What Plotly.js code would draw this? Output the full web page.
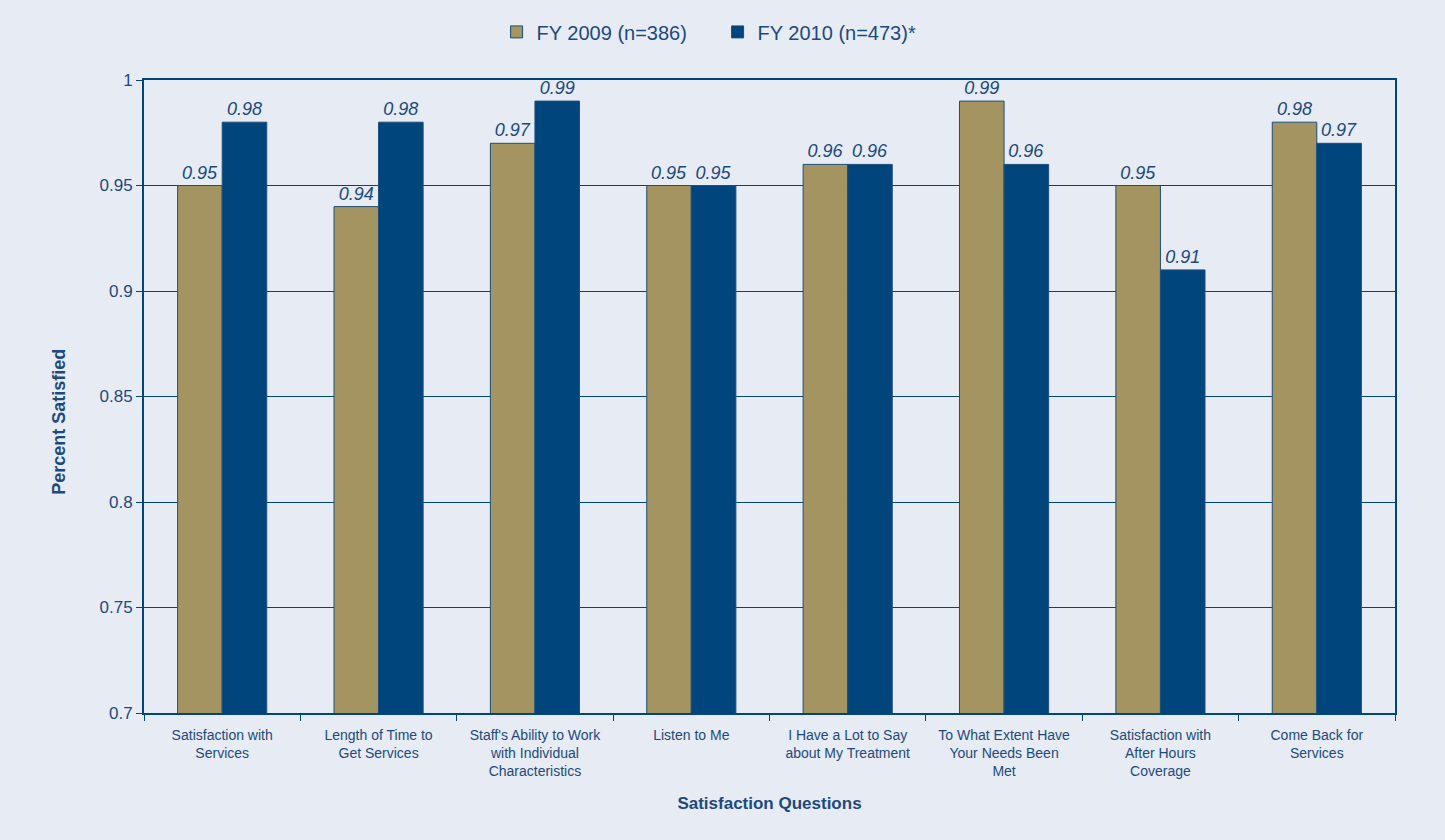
<!DOCTYPE html>
<html><head><meta charset="utf-8">
<script src="https://cdn.plot.ly/plotly-3.0.1.min.js"></script>
<style>html,body{margin:0;padding:0;background:#e7ebf4;}</style>
</head><body>
<div id="chart" style="width:1445px;height:840px;"></div>
<script>
var categories = ["Satisfaction with<br>Services","Length of Time to<br>Get Services","Staff's Ability to Work<br>with Individual<br>Characteristics","Listen to Me","I Have a Lot to Say<br>about My Treatment","To What Extent Have<br>Your Needs Been<br>Met","Satisfaction with<br>After Hours<br>Coverage","Come Back for<br>Services"];
var fy2009 = [0.95,0.94,0.97,0.95,0.96,0.99,0.95,0.98];
var fy2010 = [0.98,0.98,0.99,0.95,0.96,0.96,0.91,0.97];
var yTicks = [0.7,0.75,0.8,0.85,0.9,0.95,1];
var yTickText = ["0.7","0.75","0.8","0.85","0.9","0.95","1"];

var navy = "#00457c";
var txt = "#1c4a7e";
var font = "Liberation Sans, Arial, sans-serif";

function lbl(a){return a.map(function(v){return v.toFixed(2);});}

var traces = [
 {type:"bar", name:"FY 2009 (n=386)", x:categories, y:fy2009, text:lbl(fy2009), textposition:"outside", cliponaxis:false,
  textfont:{family:font, size:18, color:txt, style:"italic"},
  marker:{color:"#a39461", line:{color:"#1f4e79", width:1}}},
 {type:"bar", name:"FY 2010 (n=473)*", x:categories, y:fy2010, text:lbl(fy2010), textposition:"outside", cliponaxis:false,
  textfont:{family:font, size:18, color:txt, style:"italic"},
  marker:{color:navy, line:{color:"#1f4e79", width:1}}}
];

var layout = {
 width:1445, height:840,
 paper_bgcolor:"#e7ebf4", plot_bgcolor:"#e7ebf4",
 font:{family:font, color:txt},
 margin:{l:144, r:50, t:80, b:127, autoexpand:false},
 barmode:"group", bargap:0.43, bargroupgap:0,
 showlegend:true,
 legend:{orientation:"h", x:0.4585, xanchor:"center", y:1.076, yanchor:"middle", font:{size:20, color:txt}, itemwidth:30, entrywidth:176, traceorder:"normal", bgcolor:"rgba(0,0,0,0)"},
 xaxis:{type:"category", tickson:"boundaries", ticks:"outside", ticklen:6, tickcolor:navy, tickwidth:1,
  showline:true, linecolor:navy, linewidth:2, mirror:true, showgrid:false,
  tickfont:{size:14, color:txt}, ticklabelstandoff:8,
  title:{text:"<b>Satisfaction Questions</b>", font:{size:17, color:txt}, standoff:19}},
 yaxis:{range:[0.7,1], tickvals:yTicks, ticktext:yTickText, ticks:"outside", ticklen:6, tickcolor:navy, tickwidth:1,
  showline:true, linecolor:navy, linewidth:2, mirror:true, showgrid:true, gridcolor:navy, gridwidth:1,
  tickfont:{size:17, color:txt}, zeroline:false},
 annotations:[{text:"<b>Percent Satisfied</b>", xref:"paper", yref:"paper", x:-0.068, y:0.46, xanchor:"center", yanchor:"middle", textangle:-90, showarrow:false, font:{size:18, color:txt}}]
};

Plotly.newPlot("chart", traces, layout, {displayModeBar:false});
</script>
</body></html>
